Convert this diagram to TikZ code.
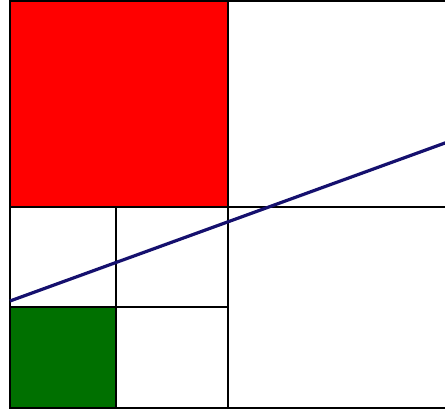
\documentclass[tikz,border=0pt]{standalone}
\usepackage{xcolor}
\usetikzlibrary{calc}
\definecolor{quadred}{HTML}{FF0000}
\definecolor{quadgreen}{HTML}{007000}
\definecolor{navyline}{HTML}{15106E}

\begin{document}
\begin{tikzpicture}[
  x=1pt, y=-1pt,
  cell/.style={draw=black, line width=1.9pt},
  cut/.style={draw=navyline, line width=3.2pt}
]
\useasboundingbox (0,0) rectangle (445,411);
\clip (0,0) rectangle (445,411);
% filled quadrants
\fill[quadred] (10,1) rectangle (228,207);
\fill[quadgreen] (10,307) rectangle (116,408);
% outer grid
\draw[cell] (10,1) rectangle (228,207);
\draw[cell] (228,1) rectangle (470,207);
\draw[cell] (228,207) rectangle (470,408);
% lower left subdivided
\draw[cell] (10,207) rectangle (116,307);
\draw[cell] (116,207) rectangle (228,307);
\draw[cell] (10,307) rectangle (116,408);
\draw[cell] (116,307) rectangle (228,408);
% crossing line
\coordinate (s) at (10,301);
\coordinate (e) at (445,143);
\draw[cut] (s) -- ($(s)!1.05!(e)$);
\end{tikzpicture}
\end{document}
